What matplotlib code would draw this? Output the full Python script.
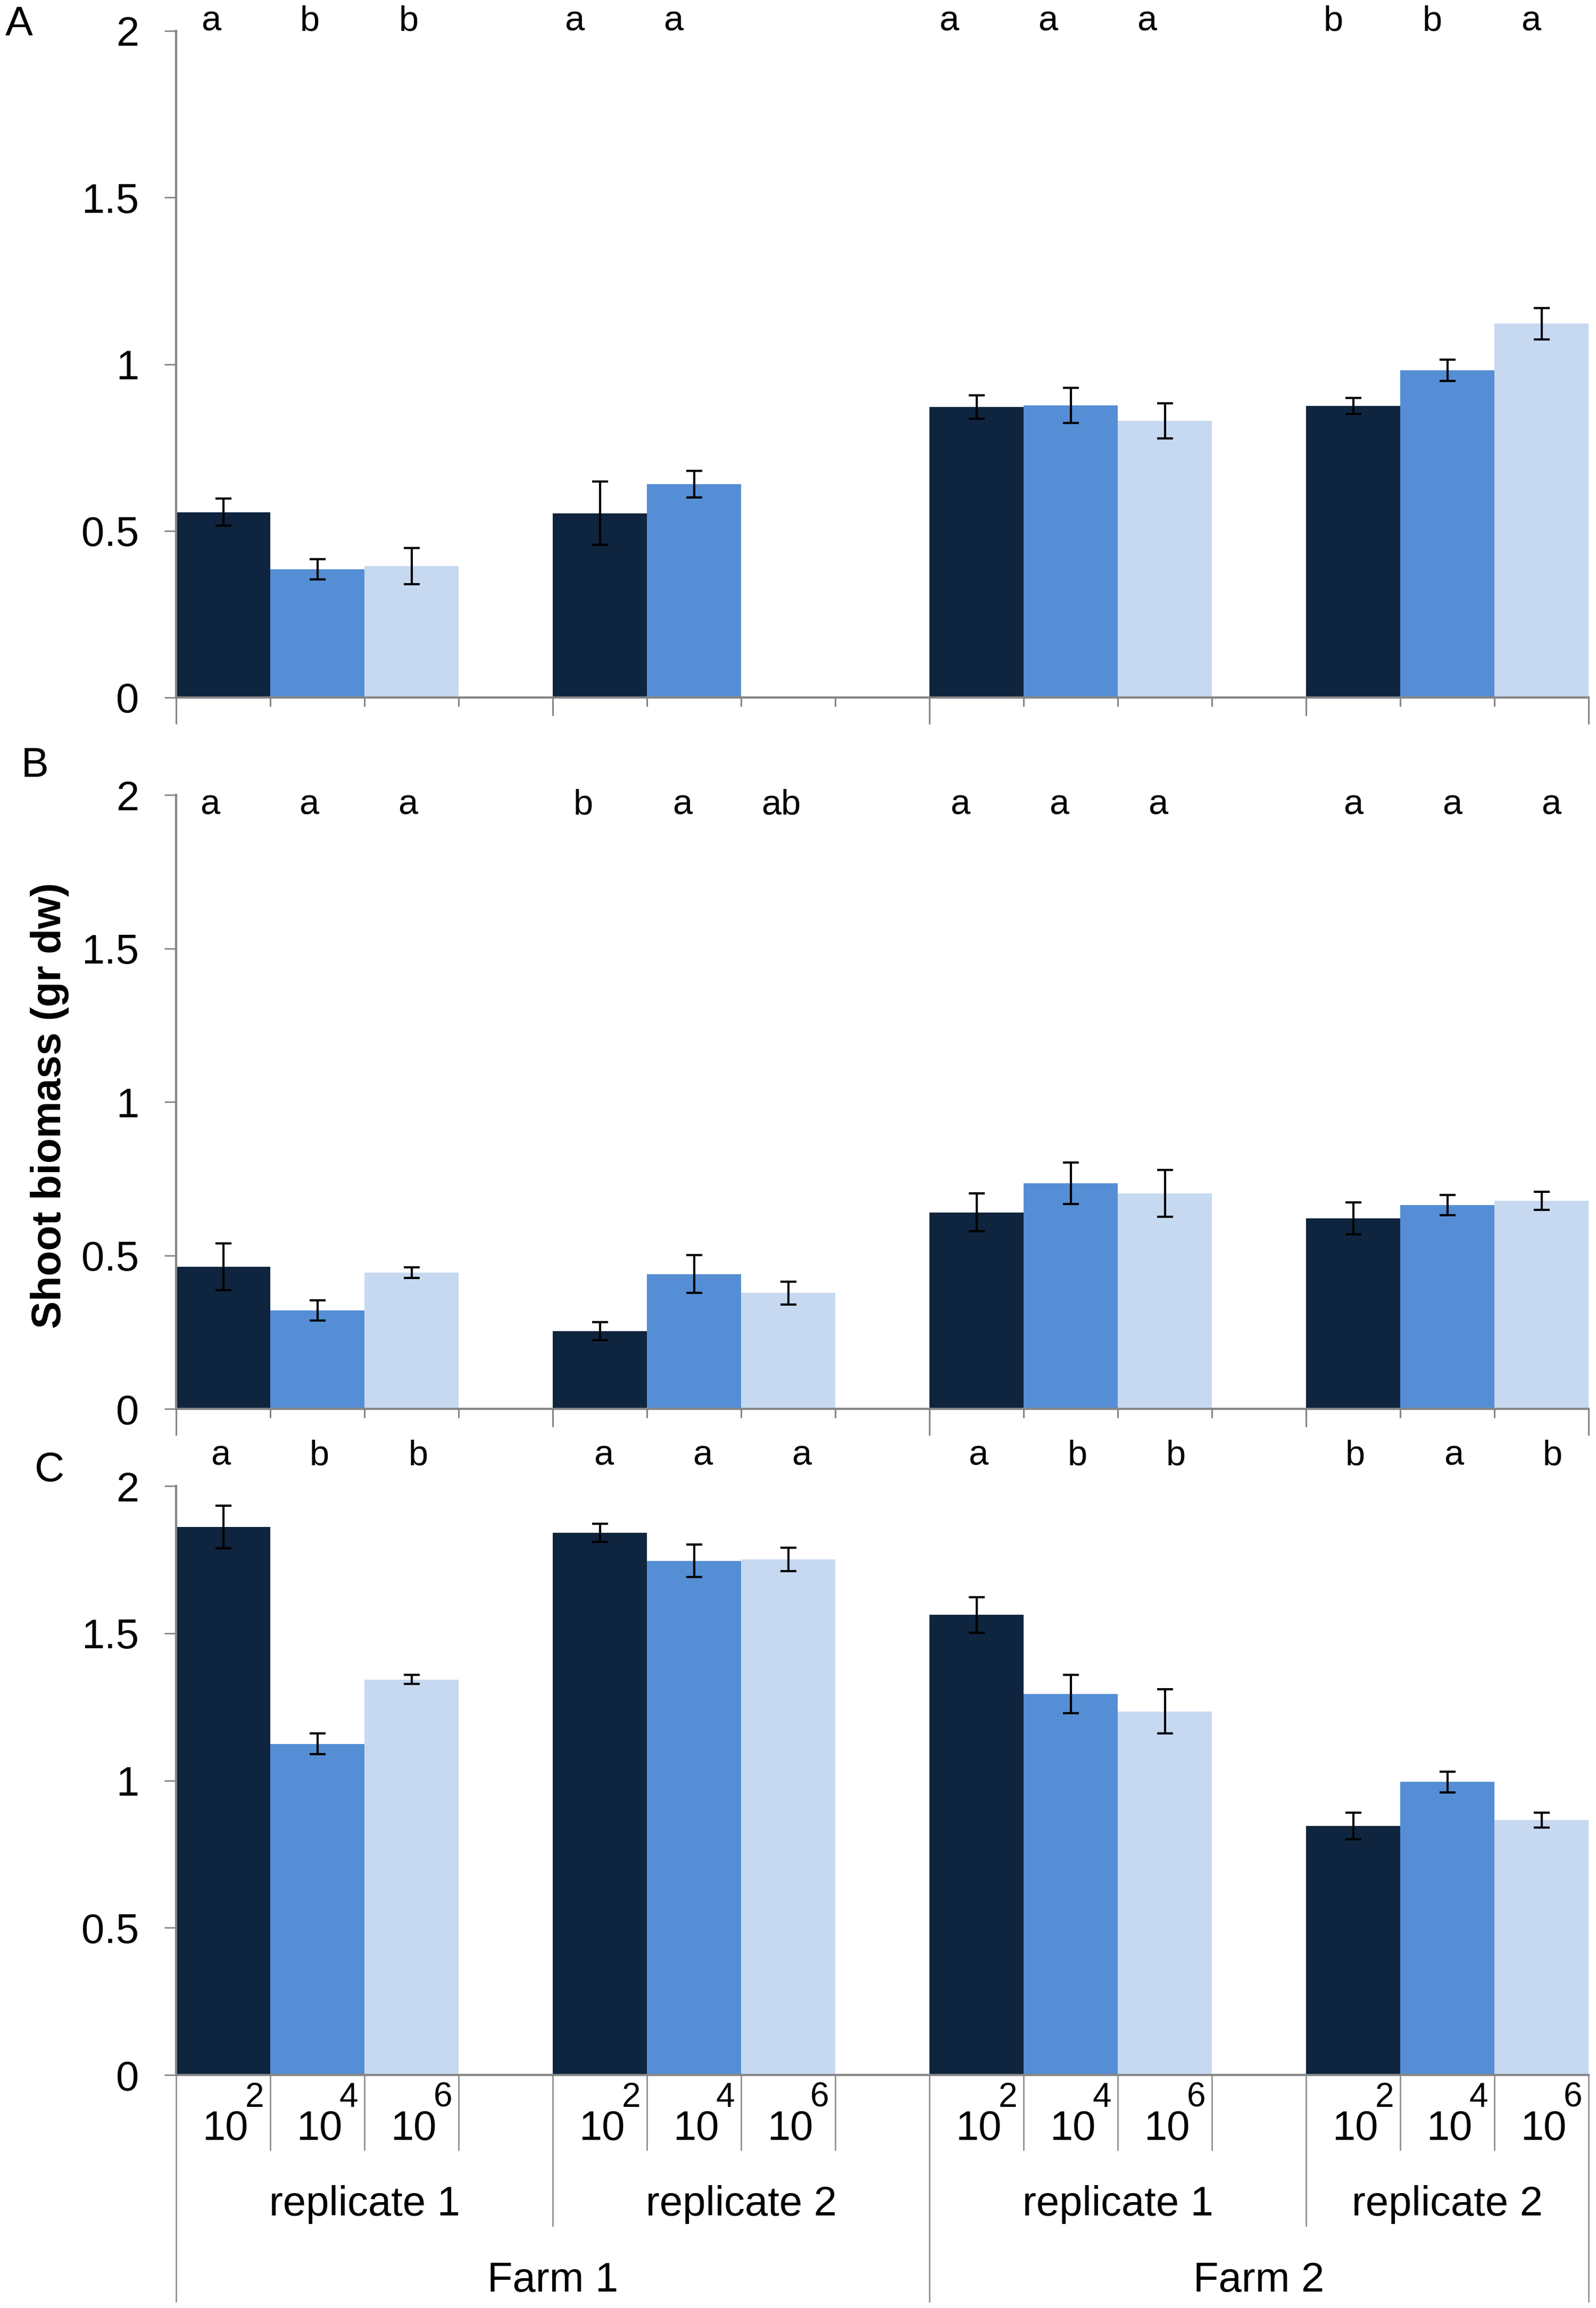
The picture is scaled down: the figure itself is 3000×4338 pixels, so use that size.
import numpy as np
import matplotlib.pyplot as plt
from matplotlib.transforms import blended_transform_factory

plt.rcParams['font.family'] = ['Liberation Sans', 'DejaVu Sans']

W, H = 3000, 4338

# categories: 4 groups (farm x replicate), 3 inoculum densities each
replicates = ['replicate 1', 'replicate 2', 'replicate 1', 'replicate 2']
farms = ['Farm 1', 'Farm 2']
exponents = ['2', '4', '6']          # densities 10^2, 10^4, 10^6
colors = ['#0F243E', '#558ED5', '#C6D9F1']

# panel A: rows = density, columns = group
a_mean = [[0.556, 0.553, 0.872, 0.874],
          [0.385, 0.640, 0.876, 0.982],
          [0.394, np.nan, 0.830, 1.122]]
a_err = [[0.041, 0.095, 0.035, 0.024],
         [0.030, 0.040, 0.053, 0.032],
         [0.054, np.nan, 0.053, 0.047]]
a_letters = [['a', 'a', 'a', 'b'],
             ['b', 'a', 'a', 'b'],
             ['b', '', 'a', 'a']]

# panel B
b_mean = [[0.463, 0.253, 0.640, 0.620],
          [0.320, 0.439, 0.735, 0.663],
          [0.444, 0.377, 0.702, 0.678]]
b_err = [[0.076, 0.029, 0.062, 0.052],
         [0.033, 0.062, 0.067, 0.033],
         [0.017, 0.038, 0.076, 0.029]]
b_letters = [['a', 'b', 'a', 'a'],
             ['a', 'a', 'a', 'a'],
             ['a', 'ab', 'a', 'a']]

# panel C
c_mean = [[1.861, 1.841, 1.562, 0.846],
          [1.124, 1.746, 1.294, 0.995],
          [1.343, 1.751, 1.234, 0.866]]
c_err = [[0.072, 0.030, 0.060, 0.045],
         [0.035, 0.055, 0.065, 0.035],
         [0.015, 0.040, 0.075, 0.025]]
c_letters = [['a', 'a', 'a', 'b'],
             ['b', 'a', 'b', 'a'],
             ['b', 'a', 'b', 'b']]

gray = '#868686'
left_px, right_px = 331, 2986

# hand-placed letter boxes: per-group shift (in categories) and letter y (data)
panels = [
    ('A', 58, 1311, a_mean, a_err, a_letters, 2.0, [-0.13, -0.27, -0.29, -0.21], (10, 66)),
    ('B', 1494, 2648, b_mean, b_err, b_letters, 1.936, [-0.14, -0.175, -0.175, 0.0], (40, 1460)),
    ('C', 2793, 3900, c_mean, c_err, c_letters, 2.072, [-0.03, 0.04, 0.02, 0.02], (65, 2784)),
]

fig = plt.figure(figsize=(W / 100, H / 100), dpi=100)

for name, top, bot, means, errs, letters, ly, shift, lpos in panels:
    ax = fig.add_axes([left_px / W, 1 - bot / H, (right_px - left_px) / W, (bot - top) / H])
    for k in range(3):
        xs = [4 * g + k for g in range(4)]
        ax.bar(xs, means[k], width=1.0, color=colors[k], linewidth=0, zorder=2)
        ax.errorbar(xs, means[k], yerr=errs[k], fmt='none', ecolor='black',
                    elinewidth=3, capsize=10.5, capthick=3, zorder=3)
        for g in range(4):
            if letters[k][g]:
                ax.text(4 * g + 1.05 * k + shift[g], ly, letters[k][g], ha='center',
                        va='baseline', fontsize=48)
    ax.set_xlim(-0.5, 14.5)
    ax.set_ylim(0, 2)
    ax.set_xticks([])
    ax.set_yticks([0, 0.5, 1, 1.5, 2])
    ax.set_yticklabels(['0', '0.5', '1', '1.5', '2'])
    ax.tick_params(axis='y', length=16, width=2, color=gray, pad=34, labelsize=56)
    for s in ['top', 'right']:
        ax.spines[s].set_visible(False)
    for s in ['left', 'bottom']:
        ax.spines[s].set_color(gray)
        ax.spines[s].set_linewidth(3)
    fig.text(lpos[0] / W, 1 - lpos[1] / H, name, ha='left', va='baseline', fontsize=56)

    # category boundary ticks below the axis
    trans = blended_transform_factory(ax.transData, ax.transAxes)
    hpx = bot - top
    if name != 'C':
        for b in np.arange(-0.5, 15, 1.0):
            if b in (-0.5, 7.5, 14.5):
                L = 50
            elif b in (3.5, 11.5):
                L = 34
            else:
                L = 17
            ax.plot([b, b], [0, -L / hpx], transform=trans, color=gray, lw=2.2,
                    clip_on=False, solid_capstyle='butt', zorder=1)
    else:
        for b in np.arange(-0.5, 15, 1.0):
            if b in (-0.5, 7.5, 14.5):
                L = 427
            elif b in (3.5, 11.5):
                L = 285
            else:
                L = 142
            ax.plot([b, b], [0, -L / hpx], transform=trans, color=gray, lw=1.8,
                    clip_on=False, solid_capstyle='butt', zorder=1)
        # density labels 10^n
        for g in range(4):
            for k in range(3):
                xc = 4 * g + k
                ax.annotate('10', xy=(xc, 0), xycoords=trans, xytext=(47, -122),
                            textcoords='offset pixels', ha='right', va='baseline',
                            fontsize=56, annotation_clip=False)
                ax.annotate(exponents[k], xy=(xc, 0), xycoords=trans, xytext=(41, -60),
                            textcoords='offset pixels', ha='left', va='baseline',
                            fontsize=46, annotation_clip=False)
        # replicate labels, centred on each group span
        spans = [(-0.5, 3.5), (3.5, 7.5), (7.5, 11.5), (11.5, 14.5)]
        for (s0, s1), lab in zip(spans, replicates):
            ax.annotate(lab, xy=((s0 + s1) / 2, 0), xycoords=trans, xytext=(0, -264),
                        textcoords='offset pixels', ha='center', va='baseline',
                        fontsize=56, annotation_clip=False)
        for (s0, s1), lab in zip([(-0.5, 7.5), (7.5, 14.5)], farms):
            ax.annotate(lab, xy=((s0 + s1) / 2, 0), xycoords=trans, xytext=(0, -407),
                        textcoords='offset pixels', ha='center', va='baseline',
                        fontsize=56, annotation_clip=False)

fig.text(94 / W, 1 - 2078 / H, 'Shoot biomass (gr dw)', rotation=90, ha='center',
         va='center', fontsize=56, fontweight='bold')

fig.savefig('out.png', dpi=100, facecolor='white')
